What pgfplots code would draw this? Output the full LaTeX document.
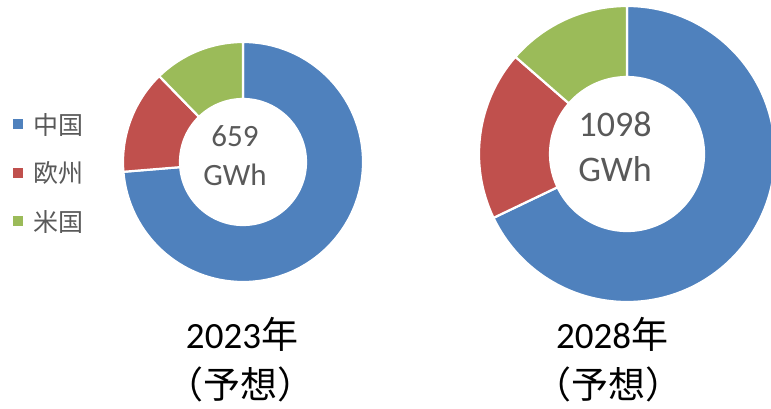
\documentclass[border=0pt]{standalone}
\usepackage{fontspec}
\setmainfont{Carlito}
\newfontfamily\cjk{Noto Sans CJK JP}
\usepackage{pgfplots}
\usepackage{pgfplotstable}
\pgfplotsset{compat=1.18}
\definecolor{cnblue}{HTML}{4F81BD}
\definecolor{eured}{HTML}{C0504D}
\definecolor{usgreen}{HTML}{9BBB59}
\definecolor{txtgray}{HTML}{595959}

% shares (%) of each region
\pgfplotstableread{
region y2023 y2028
China  73.7  67.9
Europe 14.0  18.5
US     12.3  13.6
}\sharetab

\newcommand\getshare[3]{\pgfplotstablegetelem{#1}{#2}\of\sharetab\global\edef#3{\pgfplotsretval}}
\getshare{0}{y2023}\aA
\getshare{1}{y2023}\aB
\getshare{2}{y2023}\aC
\getshare{0}{y2028}\bA
\getshare{1}{y2028}\bB
\getshare{2}{y2028}\bC

% annular sector: cx cy R r startangle endangle colour
\newcommand\ring[7]{%
 \filldraw[fill=#7, draw=white, line width=2.2pt, line join=round]
 (axis cs:{#1+#3*cos(#5)},{#2+#3*sin(#5)}) arc[start angle={#5}, end angle={#6}, radius=#3pt]
 -- (axis cs:{#1+#4*cos(#6)},{#2+#4*sin(#6)}) arc[start angle={#6}, end angle={#5}, radius=#4pt] -- cycle;}

\begin{document}
\begin{tikzpicture}
\begin{axis}[name=ax,
  x=1pt, y=1pt, xmin=0, xmax=771, ymin=0, ymax=408,
  hide axis, scale only axis, clip=true,
  legend cell align=left,
  legend image code/.code={\fill[#1] (0pt,-5pt) rectangle (10pt,5pt);},
  legend style={at={(axis cs:13,295)}, anchor=north west, draw=none, fill=none,
    inner sep=0pt, row sep=26pt, text=txtgray,
    font=\fontsize{25}{27}\selectfont\cjk,
    nodes={inner xsep=0pt, inner ysep=0pt}},
  /tikz/every odd column/.style={column sep=10pt},
]
\addlegendimage{draw=none, fill=cnblue}\addlegendentry{中国}
\addlegendimage{draw=none, fill=eured}\addlegendentry{欧州}
\addlegendimage{draw=none, fill=usgreen}\addlegendentry{米国}

% 2023 donut
\ring{243}{246}{120}{63}{90}{90-3.6*\aA}{cnblue}
\ring{243}{246}{120}{63}{90-3.6*\aA}{90-3.6*(\aA+\aB)}{eured}
\ring{243}{246}{120}{63}{90-3.6*(\aA+\aB)}{90-3.6*(\aA+\aB+\aC)}{usgreen}
% 2028 donut
\ring{627}{254}{148}{77}{90}{90-3.6*\bA}{cnblue}
\ring{627}{254}{148}{77}{90-3.6*\bA}{90-3.6*(\bA+\bB)}{eured}
\ring{627}{254}{148}{77}{90-3.6*(\bA+\bB)}{90-3.6*(\bA+\bB+\bC)}{usgreen}

% centre labels
\node[anchor=base, text=txtgray, font=\fontsize{31}{31}\selectfont, inner sep=0pt] at (axis cs:235,261.5) {659};
\node[anchor=base, text=txtgray, font=\fontsize{31}{31}\selectfont, inner sep=0pt] at (axis cs:235,223) {GWh};
\node[anchor=base, text=txtgray, font=\fontsize{36}{36}\selectfont, inner sep=0pt] at (axis cs:615,271.5) {1098};
\node[anchor=base, text=txtgray, font=\fontsize{36}{36}\selectfont, inner sep=0pt] at (axis cs:615,226.5) {GWh};

% year labels
\node[anchor=base, font=\fontsize{37}{37}\selectfont, inner sep=0pt] at (axis cs:242,60) {2023{\cjk 年}};
\node[anchor=base, font=\fontsize{37}{37}\selectfont\cjk, inner sep=0pt] at (axis cs:240,10) {（予想）};
\node[anchor=base, font=\fontsize{37}{37}\selectfont, inner sep=0pt] at (axis cs:612,60) {2028{\cjk 年}};
\node[anchor=base, font=\fontsize{37}{37}\selectfont\cjk, inner sep=0pt] at (axis cs:608,10) {（予想）};
\end{axis}
\pgfresetboundingbox
\path[use as bounding box] (ax.south west) rectangle (ax.north east);
\end{tikzpicture}
\end{document}
